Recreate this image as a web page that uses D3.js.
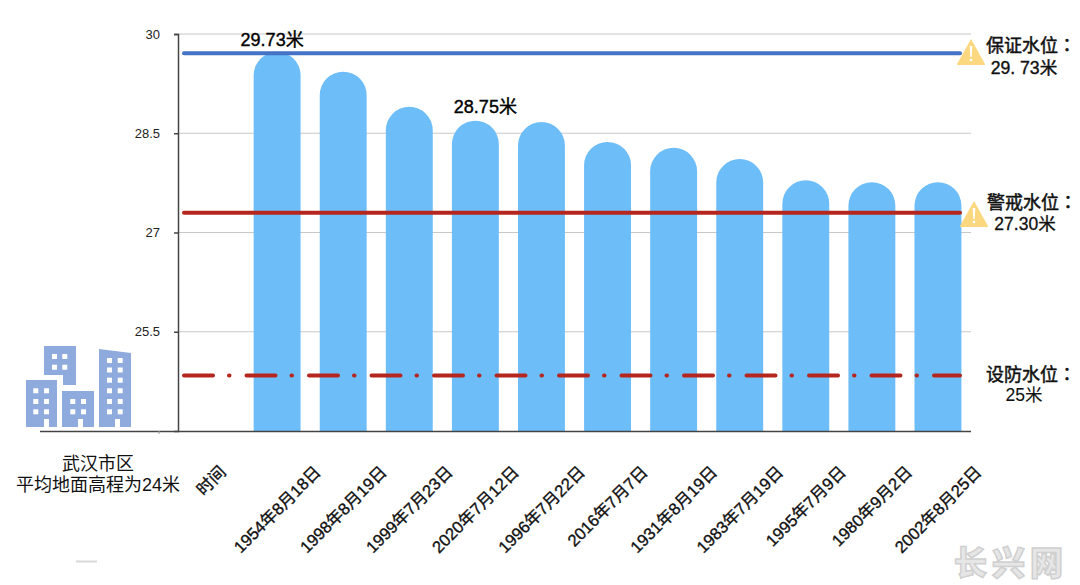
<!DOCTYPE html>
<html>
<head>
<meta charset="utf-8">
<script src="https://cdn.jsdelivr.net/npm/d3@7"></script>
<style>
    body { margin: 0; background: #fff; }
    text { font-family: "Liberation Sans", "Noto Sans CJK SC", sans-serif; }
</style>
</head>
<body>
<script>
const categories = ["时间", "1954年8月18日", "1998年8月19日", "1999年7月23日", "2020年7月12日", "1996年7月22日",
    "2016年7月7日", "1931年8月19日", "1983年7月19日", "1995年7月9日", "1980年9月2日", "2002年8月25日"];
const levels = [null, 29.73, 29.43, 28.9, 28.69, 28.67, 28.37, 28.28, 28.11, 27.79, 27.76, 27.76];
const yTicks = [30, 28.5, 27, 25.5];
const barLabels = [[1, "29.73米"], [4, "28.75米"]];

// lines are where the picture has them, 设防 sits a bit under its 25 label
const guaranteeLevel = 29.71;
const warningLevel = 27.3;
const fortifyLevel = 24.84;

const config = {
    width: 1080,
    height: 585,
    left: 178,
    right: 971,
    top: 34,
    bottom: 431,
    lineStart: 184,
    lineEnd: 960
};

const svg = d3.select("body").append("svg")
    .attr("width", config.width)
    .attr("height", config.height);

const x = d3.scaleBand().domain(categories).range([config.left, config.right]).paddingInner(0.29).paddingOuter(0.145);
const y = d3.scaleLinear().domain([24, 30]).range([config.bottom, config.top]);

// grid
svg.append("g").selectAll("line")
    .data(yTicks)
    .enter()
    .append("line")
    .attr("x1", config.left)
    .attr("x2", config.right)
    .attr("y1", d => y(d))
    .attr("y2", d => y(d))
    .style("stroke", "#c8c8c8")
    .style("stroke-width", 1.2);

// bars, flat at the bottom and fully round on top
const r = x.bandwidth() / 2;
svg.append("g").selectAll("path")
    .data(categories.map((c, i) => ({ c, v: levels[i] })).filter(d => d.v !== null))
    .enter()
    .append("path")
    .attr("d", d => {
        const x0 = x(d.c), x1 = x0 + x.bandwidth(), top = y(d.v);
        return `M${x0},${config.bottom}V${top + r}A${r},${r} 0 0 1 ${x1},${top + r}V${config.bottom}Z`;
    })
    .style("fill", "#6DBDF9");

// axes
const yAxis = svg.append("g")
    .attr("transform", `translate(${config.left},0)`)
    .call(d3.axisLeft(y).tickValues(yTicks).tickSize(4).tickPadding(14).tickFormat(d => d));
yAxis.selectAll("path, line").style("stroke", "#444").style("stroke-width", 1.5);
yAxis.selectAll("text")
    .style("font-family", "'Liberation Sans', sans-serif")
    .style("font-size", "13px")
    .style("fill", "#222");

const xAxis = svg.append("g")
    .attr("transform", `translate(0,${config.bottom})`)
    .call(d3.axisBottom(x).tickSize(0).tickPadding(0));
xAxis.select("path").remove();
xAxis.selectAll("text")
    .style("font-family", "'Liberation Sans', 'Noto Sans CJK SC', sans-serif")
    .style("font-size", "16.6px")
    .style("font-weight", "400")
    .style("stroke", "#111")
    .style("stroke-width", 0.35)
    .style("fill", "#111")
    .attr("text-anchor", "middle")
    .attr("dy", "0.35em")
    .attr("y", 0)
    .attr("transform", function () {
        // labels are centred under the band, upper end on one line
        const half = this.getComputedTextLength() * Math.SQRT1_2 / 2;
        return `translate(0,${38 + half}) rotate(-45)`;
    });

// baseline runs out under the buildings
svg.append("line")
    .attr("x1", 40).attr("x2", config.right)
    .attr("y1", config.bottom + 0.5).attr("y2", config.bottom + 0.5)
    .style("stroke", "#444").style("stroke-width", 1.5);
svg.append("line")
    .attr("x1", 159).attr("x2", 159)
    .attr("y1", config.bottom).attr("y2", config.bottom + 3)
    .style("stroke", "#999");
svg.append("line")
    .attr("x1", 76).attr("x2", 97)
    .attr("y1", 561.5).attr("y2", 561.5)
    .style("stroke", "#d8d8d8").style("stroke-width", 2);

// water level lines
[[guaranteeLevel, "#4472C4", null], [warningLevel, "#B5271E", null], [fortifyLevel, "#B5271E", "29 16 0.5 17"]].forEach(d => {
    svg.append("line")
        .attr("x1", config.lineStart)
        .attr("x2", config.lineEnd)
        .attr("y1", y(d[0]))
        .attr("y2", y(d[0]))
        .style("stroke", d[1])
        .style("stroke-width", 4)
        .style("stroke-linecap", "round")
        .style("stroke-dasharray", d[2]);
});

// bar labels
svg.append("g").selectAll("text")
    .data(barLabels)
    .enter()
    .append("text")
    .attr("x", d => x(categories[d[0]]) + r - (d[0] === 1 ? 5 : -10))
    .attr("y", d => d[0] === 1 ? 46 : 113)
    .attr("text-anchor", "middle")
    .style("font-size", "18px")
    .style("stroke", "#000")
    .style("stroke-width", 0.4)
    .text(d => d[1]);

// warning triangles
function warning(cx, top) {
    const g = svg.append("g").attr("transform", `translate(${cx},${top})`);
    g.append("path").attr("d", "M0,0L14,25Q14.5,26 13,26H-13Q-14.5,26 -14,25Z").style("fill", "#FBD87F");
    g.append("path").attr("d", "M-1.3,7H1.3L0.7,18H-0.7Z").style("fill", "#fff");
    g.append("circle").attr("cy", 21).attr("r", 1.3).style("fill", "#fff");
}
warning(971, 39);
warning(974, 201);

// right side labels, the TC font keeps the colon centred in its cell
const sideLabels = [
    ["保证水位：", 1031, 52, 18, 0.5],
    ["29. 73米", 1024, 74, 17.6, 0.4],
    ["警戒水位：", 1032, 209, 18, 0.5],
    ["27.30米", 1025, 230, 17.5, 0.3],
    ["设防水位：", 1031, 381, 18, 0.5],
    ["25米", 1024, 401, 17.5, 0.1],
    ["武汉市区", 98, 470, 18, 0],
    ["平均地面高程为24米", 98, 491, 18, 0]
];
svg.append("g").selectAll("text")
    .data(sideLabels)
    .enter()
    .append("text")
    .attr("x", d => d[1])
    .attr("y", d => d[2])
    .attr("text-anchor", "middle")
    .style("font-family", d => d[0].endsWith("：") ? "'Noto Sans CJK TC', sans-serif" : null)
    .style("font-size", d => d[3] + "px")
    .style("fill", "#111")
    .style("stroke", "#111")
    .style("stroke-width", d => d[4])
    .text(d => d[0]);

// buildings
const icon = svg.append("g").style("fill", "#8FAADC");
[
    "M44,346H76V385H63V375H44Z",
    "M26,380H57V427H49V419H44V427H26Z",
    "M62,391H94V427H83V419H78V427H62Z",
    "M99,349L131,353V427H120V419H115V427H99Z"
].forEach(d => icon.append("path").attr("d", d));
[
    [[52, 62.3], [354, 364.7]],
    [[33.3, 44], [388.3, 399, 409.3]],
    [[70.3, 81], [399, 409.3]],
    [[107, 117.7], [358, 367.5, 377.7, 388.3, 399, 409.3]]
].forEach(w => {
    w[0].forEach(wx => w[1].forEach(wy => {
        svg.append("rect").attr("x", wx).attr("y", wy).attr("width", 5).attr("height", 5).style("fill", "#fff");
    }));
});

// watermark
svg.append("text")
    .attr("x", 1011)
    .attr("y", 575)
    .attr("text-anchor", "middle")
    .style("font-family", "'Noto Sans CJK SC', sans-serif")
    .style("font-size", "33px")
    .style("font-weight", "900")
    .style("letter-spacing", "5px")
    .style("fill", "#e6e6e6")
    .style("stroke", "#d0d0d0")
    .style("stroke-width", 1.5)
    .text("长兴网");
</script>
</body>
</html>
